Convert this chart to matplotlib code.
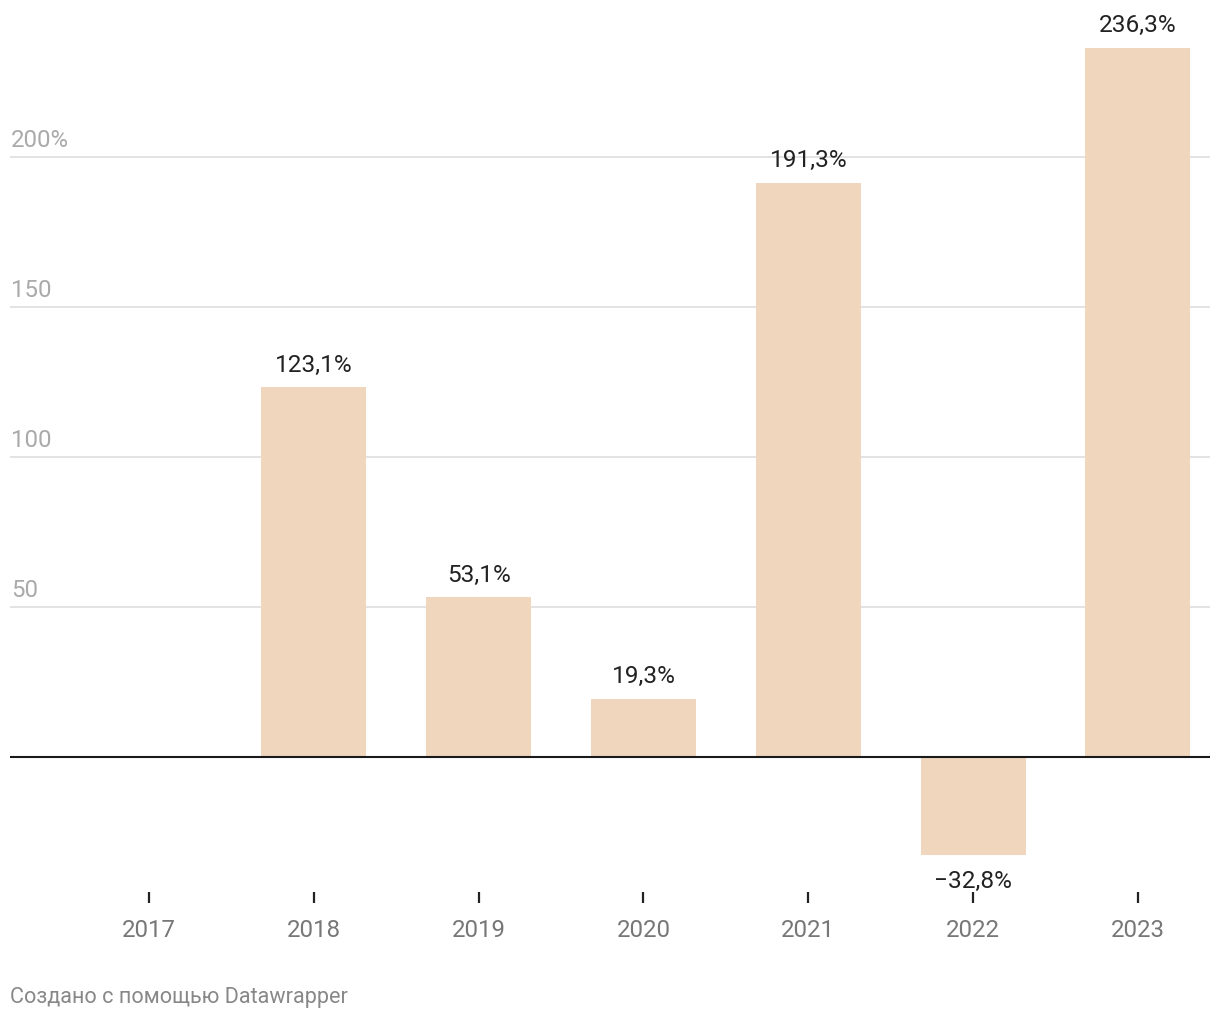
import matplotlib
matplotlib.use("Agg")
import matplotlib.pyplot as plt

years = ["2017", "2018", "2019", "2020", "2021", "2022", "2023"]
values = [None, 123.1, 53.1, 19.3, 191.3, -32.8, 236.3]
labels = ["", "123,1%", "53,1%", "19,3%", "191,3%", "−32,8%", "236,3%"]
yticks = [50, 100, 150, 200]
ytick_labels = ["50", "100", "150", "200%"]

plt.rcParams['font.family'] = ['Roboto', 'DejaVu Sans']

W, H = 1220, 1020
fig = plt.figure(figsize=(W / 100, H / 100), dpi=100)
ax = fig.add_axes([0, 0, 1, 1])
ax.set_axis_off()

# pixel mapping: y_px = Z - 3*v ; x_px = 149 + 164.83*i
Z = 757.5
step = 164.83
x0 = 149
ax.set_xlim((0 - x0) / step, (W - x0) / step)
ax.set_ylim((Z - H) / 3, Z / 3)

gx0 = (10 - x0) / step
gx1 = (1210 - x0) / step

for t, lab in zip(yticks, ytick_labels):
    ax.plot([gx0, gx1], [t, t], color="#e3e3e3", lw=1.4, zorder=1, solid_capstyle="butt")
    ax.text(gx0 + 1 / step, t + 5.7, lab, fontsize=17.3, color="#aaaaaa", ha="left", va="center")

bar_x = [i for i, v in enumerate(values) if v is not None]
bar_v = [v for v in values if v is not None]
ax.bar(bar_x, bar_v, width=105 / step, color="#f0d6bc", zorder=2)

ax.plot([gx0, gx1], [0, 0], color="#1a1a1a", lw=1.5, zorder=3, solid_capstyle="butt")

for i, (v, lab) in enumerate(zip(values, labels)):
    if v is None:
        continue
    if v >= 0:
        ax.text(i, v + 7.6, lab, fontsize=17.6, color="#222222", ha="center", va="center")
    else:
        ax.text(i, v - 8.4, lab, fontsize=17.6, color="#222222", ha="center", va="center")

for i, y in enumerate(years):
    ax.plot([i, i], [(Z - 893) / 3, (Z - 904) / 3], color="#222222", lw=1.6, solid_capstyle="butt")
    ax.text(i, (Z - 931) / 3, y, fontsize=17.3, color="#777777", ha="center", va="center")

fig.text(10 / W, 1 - 998 / H, "Создано с помощью Datawrapper", fontsize=15.6,
         color="#888888", ha="left", va="center")

fig.savefig("out.png", dpi=100)
